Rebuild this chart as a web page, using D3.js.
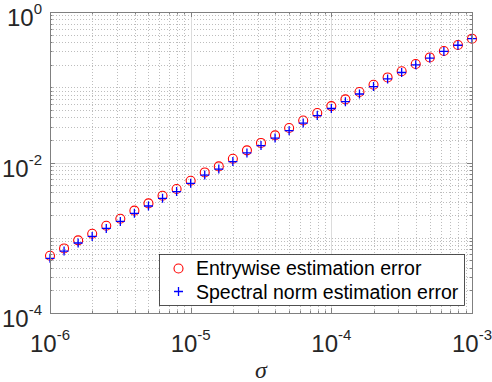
<!DOCTYPE html>
<html>
<head>
<meta charset="utf-8">
<script src="https://cdn.jsdelivr.net/npm/d3@7"></script>
<style>
  body { margin: 0; background: #fff; }
  text { font-family: "Liberation Sans", Arial, sans-serif; }
</style>
</head>
<body>
<svg id="chart"></svg>
<script>
// sigma values (x)
var sigma = [1e-6, 1.259e-6, 1.585e-6, 1.995e-6, 2.512e-6, 3.162e-6, 3.981e-6, 5.012e-6, 6.310e-6, 7.943e-6,
    1e-5, 1.259e-5, 1.585e-5, 1.995e-5, 2.512e-5, 3.162e-5, 3.981e-5, 5.012e-5, 6.310e-5, 7.943e-5,
    1e-4, 1.259e-4, 1.585e-4, 1.995e-4, 2.512e-4, 3.162e-4, 3.981e-4, 5.012e-4, 6.310e-4, 7.943e-4, 1e-3];

var entrywise = [5.77e-4, 7.21e-4, 9.23e-4, 1.13e-3, 1.445e-3, 1.79e-3, 2.29e-3, 2.86e-3, 3.62e-3, 4.45e-3,
    5.73e-3, 7.38e-3, 8.87e-3, 0.0112, 0.0145, 0.0182, 0.0229, 0.0287, 0.0362, 0.0455,
    0.0562, 0.069, 0.0865, 0.108, 0.135, 0.163, 0.204, 0.249, 0.303, 0.364, 0.442];

var spectral = [5.33e-4, 6.65e-4, 8.52e-4, 1.04e-3, 1.33e-3, 1.65e-3, 2.11e-3, 2.64e-3, 3.34e-3, 4.11e-3,
    5.29e-3, 6.81e-3, 8.19e-3, 0.0103, 0.0134, 0.0168, 0.0211, 0.0265, 0.0334, 0.0420,
    0.0522, 0.0644, 0.0813, 0.1022, 0.129, 0.157, 0.1985, 0.244, 0.299, 0.3615, 0.442];

var xTicks = [1e-6, 1e-5, 1e-4, 1e-3];
var xTickExp = ["-6", "-5", "-4", "-3"];
var yTicks = [1e-4, 1e-2, 1];
var yTickExp = ["-4", "-2", "0"];
var legendLabels = ["Entrywise estimation error", "Spectral norm estimation error"];

var dimensions = {
    width: 492,
    height: 382,
    margin: { top: 12, bottom: 69, left: 50, right: 20 }
};
var plotLeft = dimensions.margin.left,
    plotRight = dimensions.width - dimensions.margin.right,
    plotTop = dimensions.margin.top,
    plotBottom = dimensions.height - dimensions.margin.bottom;

var svg = d3.select("#chart")
    .attr("width", dimensions.width)
    .attr("height", dimensions.height);

var x = d3.scaleLog().domain([1e-6, 1e-3]).range([plotLeft, plotRight]);
var y = d3.scaleLog().domain([1e-4, 1]).range([plotBottom, plotTop]);

// minor tick positions (every 1..9 x 10^n, minus the major ones)
var xAll = x.ticks(30);
var yAll = y.ticks(40);
var isMajor = (list, v) => list.some(t => Math.abs(t - v) / t < 1e-9);
var xMinor = xAll.filter(v => !isMajor(xTicks, v));
var yMinor = yAll.filter(v => !isMajor(yTicks, v));

var grid = svg.append("g");
grid.selectAll(".xminor").data(xMinor).enter().append("line")
    .attr("x1", d => Math.round(x(d)) + 0.5).attr("x2", d => Math.round(x(d)) + 0.5)
    .attr("y1", plotTop).attr("y2", plotBottom)
    .attr("stroke", "#bdbdbd").attr("stroke-dasharray", "1,2");
grid.selectAll(".yminor").data(yMinor).enter().append("line")
    .attr("y1", d => Math.round(y(d)) + 0.5).attr("y2", d => Math.round(y(d)) + 0.5)
    .attr("x1", plotLeft).attr("x2", plotRight)
    .attr("stroke", "#bdbdbd").attr("stroke-dasharray", "1,2");
grid.selectAll(".xmajor").data(xTicks).enter().append("line")
    .attr("x1", d => Math.round(x(d)) + 0.5).attr("x2", d => Math.round(x(d)) + 0.5)
    .attr("y1", plotTop).attr("y2", plotBottom)
    .attr("stroke", "#dcdcdc");
grid.selectAll(".ymajor").data(yTicks).enter().append("line")
    .attr("y1", d => Math.round(y(d)) + 0.5).attr("y2", d => Math.round(y(d)) + 0.5)
    .attr("x1", plotLeft).attr("x2", plotRight)
    .attr("stroke", "#dcdcdc");

// data markers
svg.append("g").selectAll("circle")
    .data(sigma)
    .enter()
    .append("circle")
    .attr("cx", (d, i) => x(d))
    .attr("cy", (d, i) => y(entrywise[i]))
    .attr("r", 4.5)
    .attr("fill", "none")
    .attr("stroke", "#ff0000")
    .attr("stroke-width", 1.1);

var plusPath = "M-4.5,0H4.5M0,-4.5V4.5";
svg.append("g").selectAll("path")
    .data(sigma)
    .enter()
    .append("path")
    .attr("d", plusPath)
    .attr("transform", (d, i) => `translate(${x(d)},${y(spectral[i])})`)
    .attr("fill", "none")
    .attr("stroke", "#0000ff")
    .attr("stroke-width", 1.3);

// axes box with inward ticks on all sides
var axisColor = "#808080";
var ax = svg.append("g").attr("stroke", axisColor).attr("fill", "none");
ax.append("rect")
    .attr("x", plotLeft + 0.5).attr("y", plotTop + 0.5)
    .attr("width", plotRight - plotLeft).attr("height", plotBottom - plotTop);

function xTickLines(data, len) {
    data.forEach(function (v) {
        var px = Math.round(x(v)) + 0.5;
        ax.append("line").attr("x1", px).attr("x2", px).attr("y1", plotBottom).attr("y2", plotBottom - len);
        ax.append("line").attr("x1", px).attr("x2", px).attr("y1", plotTop).attr("y2", plotTop + len);
    });
}
function yTickLines(data, len) {
    data.forEach(function (v) {
        var py = Math.round(y(v)) + 0.5;
        ax.append("line").attr("y1", py).attr("y2", py).attr("x1", plotLeft).attr("x2", plotLeft + len);
        ax.append("line").attr("y1", py).attr("y2", py).attr("x1", plotRight).attr("x2", plotRight - len);
    });
}
xTickLines(xTicks, 5);
xTickLines(xMinor, 2.5);
yTickLines(yTicks, 5);
yTickLines(yMinor, 2.5);

// tick labels
var xl = svg.append("g").attr("fill", "#262626");
xTicks.forEach(function (v, i) {
    var t = xl.append("text")
        .attr("x", x(v))
        .attr("y", 352)
        .attr("text-anchor", "middle");
    t.append("tspan").style("font-size", "24px").text("10");
    t.append("tspan").style("font-size", "15px").attr("dy", -12).text(xTickExp[i]);
});

var yl = svg.append("g").attr("fill", "#262626");
yTicks.forEach(function (v, i) {
    var t = yl.append("text")
        .attr("x", 42)
        .attr("y", y(v) + 14)
        .attr("text-anchor", "end");
    t.append("tspan").style("font-size", "24px").text("10");
    t.append("tspan").style("font-size", "15px").attr("dy", -12).text(yTickExp[i]);
});

// x axis label
svg.append("text")
    .attr("x", (plotLeft + plotRight) / 2)
    .attr("y", 378)
    .attr("text-anchor", "middle")
    .attr("fill", "#262626")
    .style("font-family", "'Liberation Serif', serif")
    .style("font-style", "italic")
    .style("font-size", "24px")
    .text("σ");

// legend
var legend = svg.append("g");
legend.append("rect")
    .attr("x", 159.5).attr("y", 254.5)
    .attr("width", 305).attr("height", 51)
    .attr("fill", "#fff")
    .attr("stroke", "#262626")
    .attr("stroke-width", 0.8);
legend.append("circle")
    .attr("cx", 178.5).attr("cy", 268.5).attr("r", 4.5)
    .attr("fill", "none").attr("stroke", "#ff0000").attr("stroke-width", 1.1);
legend.append("path")
    .attr("d", plusPath)
    .attr("transform", "translate(178.5,291.5)")
    .attr("fill", "none").attr("stroke", "#0000ff").attr("stroke-width", 1.3);
legend.selectAll(".lbl").data(legendLabels).enter().append("text")
    .attr("x", 196)
    .attr("y", (d, i) => 275 + i * 23.5)
    .attr("fill", "#000")
    .style("font-size", "19.5px")
    .text(d => d);
</script>
</body>
</html>
